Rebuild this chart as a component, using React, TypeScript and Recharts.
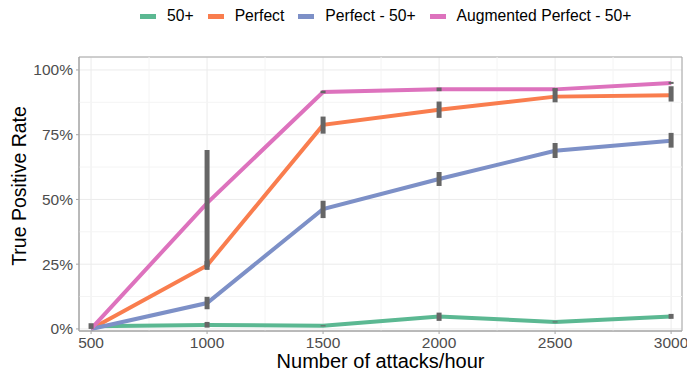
import React from 'react'
import {
  LineChart,
  Line,
  XAxis,
  YAxis,
  CartesianGrid,
  ErrorBar,
  ReferenceLine,
  ReferenceArea,
} from 'recharts'

const attacks = [500, 1000, 1500, 2000, 2500, 3000]

const fiftyPlus = [1.0, 1.5, 1.2, 4.8, 2.7, 4.8]
const fiftyPlusLow = [0, 0.5, 1.0, 3.1, 2.5, 3.9]
const fiftyPlusHigh = [2.2, 2.7, 1.4, 6.3, 2.9, 5.8]

const perfect = [0, 24.5, 78.8, 84.6, 89.7, 90.2]
const perfectLow = [0, 22.8, 75.4, 81.5, 87.5, 87.8]
const perfectHigh = [0, 26.2, 82.0, 87.8, 92.9, 93.7]

const perfectMinus = [0, 10.0, 46.3, 57.9, 68.8, 72.7]
const perfectMinusLow = [0, 7.6, 42.8, 55.2, 66.0, 70.0]
const perfectMinusHigh = [0, 12.4, 49.5, 60.6, 71.8, 75.7]

const augmented = [0, 48.6, 91.5, 92.5, 92.5, 95.0]
const augmentedLow = [0, 24.0, 91.0, 91.8, 92.0, 94.6]
const augmentedHigh = [0, 69.1, 92.0, 93.2, 93.0, 95.4]

const xTicks = [500, 1000, 1500, 2000, 2500, 3000]
const xMinor = [750, 1250, 1750, 2250, 2750]
const yTicks = [0, 25, 50, 75, 100]
const yMinor = [12.5, 37.5, 62.5, 87.5]

const series = [
  { key: 'fifty', name: '50+', color: '#5bb892', values: fiftyPlus, low: fiftyPlusLow, high: fiftyPlusHigh },
  { key: 'perfect', name: 'Perfect', color: '#f97d4e', values: perfect, low: perfectLow, high: perfectHigh },
  { key: 'perfectMinus', name: 'Perfect - 50+', color: '#7d90c7', values: perfectMinus, low: perfectMinusLow, high: perfectMinusHigh },
  { key: 'augmented', name: 'Augmented Perfect - 50+', color: '#dd72bd', values: augmented, low: augmentedLow, high: augmentedHigh },
]

const data = attacks.map((x, i) => {
  const row: any = { x }
  series.forEach(s => {
    row[s.key] = s.values[i]
    row[s.key + 'Err'] = [s.values[i] - s.low[i], s.high[i] - s.values[i]]
  })
  return row
})

const FONT = '"Liberation Sans", Arial, Helvetica, sans-serif'

export default function App() {
  return (
    <div style={{ position: 'absolute', left: 0, top: 0, width: 687, height: 374, background: '#fff', fontFamily: FONT }}>
      {/* legend */}
      <div style={{ position: 'absolute', left: 140, top: 7, height: 18, display: 'flex', alignItems: 'center', fontSize: 15.7, color: '#000', whiteSpace: 'nowrap' }}>
        {series.map(s => (
          <div key={s.key} style={{ display: 'flex', alignItems: 'center', marginRight: 14 }}>
            <span style={{ display: 'inline-block', width: 16, height: 5, background: s.color, marginRight: 11 }} />
            <span>{s.name}</span>
          </div>
        ))}
      </div>

      <LineChart width={687} height={374} data={data} margin={{ top: 57, right: 5, bottom: 0, left: 0 }}>
        <CartesianGrid stroke="#ebebeb" strokeWidth={1} />
        {xMinor.map(v => (
          <ReferenceLine key={'xm' + v} x={v} stroke="#f4f4f4" strokeWidth={1} />
        ))}
        {yMinor.map(v => (
          <ReferenceLine key={'ym' + v} y={v} stroke="#f4f4f4" strokeWidth={1} />
        ))}
        <XAxis
          dataKey="x"
          type="number"
          domain={[448, 3047]}
          ticks={xTicks}
          allowDataOverflow
          height={43}
          tickSize={3}
          tickMargin={3}
          stroke="#a6a6a6"
          tick={{ fontSize: 15.5, fill: '#4d4d4d', fontFamily: FONT }}
          label={{ value: 'Number of attacks/hour', position: 'insideBottom', offset: 6, fontSize: 20, fill: '#000', fontFamily: FONT }}
        />
        <YAxis
          type="number"
          domain={[-0.8, 105]}
          ticks={yTicks}
          allowDataOverflow
          width={79}
          tickSize={3}
          tickMargin={3}
          stroke="#a6a6a6"
          tickFormatter={(v: number) => `${v}%`}
          tick={{ fontSize: 15.5, fill: '#4d4d4d', fontFamily: FONT }}
          label={{
            content: () => (
              <text x={26} y={186} transform="rotate(-90 26 186)" textAnchor="middle" fontSize={19.5} fill="#000" fontFamily={FONT}>
                True Positive Rate
              </text>
            ),
          }}
        />
        <ReferenceArea x1={448} x2={3047} y1={-0.8} y2={105} fill="none" stroke="#a6a6a6" strokeWidth={1} ifOverflow="visible" />
        {series.map(s => (
          <Line
            key={s.key}
            dataKey={s.key}
            stroke={s.color}
            strokeWidth={4}
            dot={false}
            activeDot={false}
            type="linear"
            isAnimationActive={false}
          />
        ))}
        {series.map(s => (
          <Line
            key={s.key + 'eb'}
            dataKey={s.key}
            stroke="none"
            dot={false}
            activeDot={false}
            legendType="none"
            isAnimationActive={false}
          >
            <ErrorBar dataKey={s.key + 'Err'} direction="y" width={0} strokeWidth={5} stroke="#666666" isAnimationActive={false} />
          </Line>
        ))}
      </LineChart>
    </div>
  )
}
